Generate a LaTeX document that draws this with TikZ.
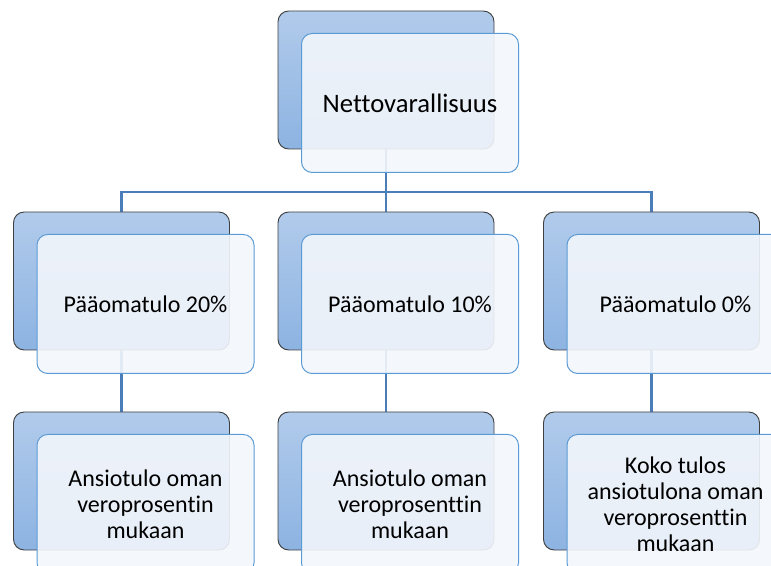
\documentclass[tikz,border=0pt]{standalone}
\usepackage{fontspec}
\setmainfont{Carlito}[Ligatures = NoCommon]
\usetikzlibrary{positioning}
\pgfdeclarelayer{background}
\pgfsetlayers{background,main}
\definecolor{backtop}{RGB}{177,203,235}
\definecolor{backbot}{RGB}{141,179,226}
\definecolor{frontfill}{RGB}{243,246,251}
\definecolor{frontline}{RGB}{91,155,213}
\definecolor{linkblue}{RGB}{74,126,187}
\tikzset{back/.style = {draw = black!75, line width = 0.7pt, rounded corners = 8pt,
                        top color = backtop, bottom color = backbot,
                        minimum width = 162pt, minimum height = 103.5pt, inner sep = 0}}
\tikzset{front/.style = {draw = frontline, line width = 0.75pt, rounded corners = 8pt,
                         fill = frontfill, fill opacity = 0.9, text opacity = 1,
                         minimum width = 162.75pt, minimum height = 104.25pt, inner sep = 0,
                         align = center, font = \fontsize{18}{19.5}\selectfont}}
\tikzset{link/.style = {draw = linkblue, line width = 1.8pt}}
\tikzset{shifted/.style = {xshift = 18pt, yshift = -17.25pt}}

\begin{document}
\begin{tikzpicture}[x = 0.75pt, y = -0.75pt]
      \useasboundingbox (0, 0) rectangle (771, 566);
      \clip (0, 0) rectangle (771, 566);
      % back boxes
      \node [back] (b0) at (386, 80) {};
      \node [back] (b1) at (121.5, 281) {};
      \node [back] (b2) at (386, 281) {};
      \node [back] (b3) at (651.5, 281) {};
      \node [back] (c1) at (121.5, 481) {};
      \node [back] (c2) at (386, 481) {};
      \node [back] (c3) at (651.5, 481) {};
      % connectors
      \coordinate (bus) at (386, 192);
      \begin{pgfonlayer}{background}
        \draw [link] (b0.south) -- (bus) -| (b1.north);
        \draw [link] (bus) -| (b3.north);
        \draw [link] (bus) -- (b2.north);
        \draw [link] (b1.south) -- (c1.north);
        \draw [link] (b2.south) -- (c2.north);
        \draw [link] (b3.south) -- (c3.north);
      \end{pgfonlayer}
      % front boxes
      \node [front, font = \fontsize{20}{22}\selectfont] (f0) at ([shifted] b0) {Nettovarallisuus};
      \node [front] (f1) at ([shifted] b1) {Pääomatulo 20\%};
      \node [front] (f2) at ([shifted] b2) {Pääomatulo 10\%};
      \node [front] (f3) at ([shifted] b3) {Pääomatulo 0\%};
      \node [front] (g1) at ([shifted] c1) {Ansiotulo oman\\veroprosentin\\mukaan};
      \node [front] (g2) at ([shifted] c2) {Ansiotulo oman\\veroprosenttin\\mukaan};
      \node [front] (g3) at ([shifted] c3) {Koko tulos\\ansiotulona oman\\veroprosenttin\\mukaan};
    \end{tikzpicture}
\end{document}
